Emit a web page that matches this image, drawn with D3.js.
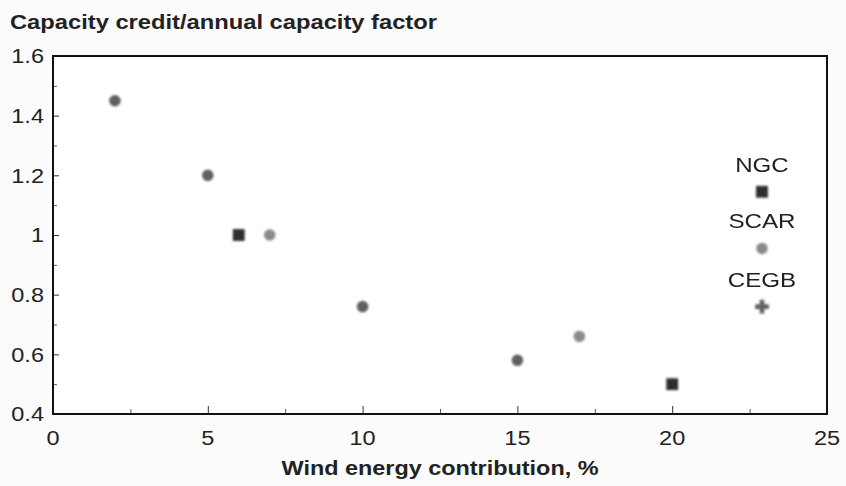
<!DOCTYPE html>
<html>
<head>
<meta charset="utf-8">
<script src="https://cdn.jsdelivr.net/npm/d3@7"></script>
<style>
  html, body { margin: 0; padding: 0; background: #fbfbfb; }
  svg { display: block; }
</style>
</head>
<body>
<svg id="chart" width="846" height="486"></svg>
<script>
// Wind energy contribution (%) vs capacity credit / annual capacity factor
const ngcX = [6, 20];
const ngcY = [1.0, 0.5];
const scarX = [7, 17];
const scarY = [1.0, 0.66];
const cegbX = [2, 5, 10, 15];
const cegbY = [1.45, 1.2, 0.76, 0.58];

// Key markers drawn beside the right edge, with their labels
const keyNames = ["NGC", "SCAR", "CEGB"];
const keyX = [22.9, 22.9, 22.9];
const keyY = [1.145, 0.955, 0.76];

const xMajorTicks = [0, 5, 10, 15, 20, 25];
const xMinorTicks = [2.5, 7.5, 12.5, 17.5, 22.5];
const yMajorTicks = [0.4, 0.6, 0.8, 1.0, 1.2, 1.4, 1.6];
const yMinorTicks = [0.5, 0.7, 0.9, 1.1, 1.3, 1.5];

const titleText = "Capacity credit/annual capacity factor";
const xLabelText = "Wind energy contribution, %";

const svg = d3.select("#chart");
const margin = { left: 53, right: 19, top: 56, bottom: 72 };
const W = 846, H = 486;
const plotW = W - margin.left - margin.right;
const plotH = H - margin.top - margin.bottom;

const x = d3.scaleLinear().domain([0, 25]).range([margin.left, margin.left + plotW]);
const y = d3.scaleLinear().domain([0.4, 1.6]).range([margin.top + plotH, margin.top]);

const defs = svg.append("defs");
defs.append("filter").attr("id", "soft")
  .attr("x", "-50%").attr("y", "-50%").attr("width", "200%").attr("height", "200%")
  .append("feGaussianBlur").attr("stdDeviation", 1.1);

const font = "'Liberation Sans', Arial, sans-serif";

// wide-set text: draws a string at a given size and stretches it horizontally
function wideText(g, sx) {
  return g.attr("transform", function () {
    const tx = +this.getAttribute("x"), ty = +this.getAttribute("y");
    return `translate(${tx},${ty}) scale(${sx},1) translate(${-tx},${-ty})`;
  });
}

// plot background
svg.append("rect")
  .attr("x", margin.left).attr("y", margin.top)
  .attr("width", plotW).attr("height", plotH)
  .attr("fill", "#ffffff");

// inward ticks on the left axis
svg.append("g").attr("transform", `translate(${margin.left},0)`)
  .call(d3.axisRight(y).tickValues(yMajorTicks).tickSize(6).tickFormat(""))
  .call(g => g.select(".domain").remove())
  .call(g => g.selectAll("line").attr("stroke", "#333").attr("stroke-width", 1));
svg.append("g").attr("transform", `translate(${margin.left},0)`)
  .call(d3.axisRight(y).tickValues(yMinorTicks).tickSize(4).tickFormat(""))
  .call(g => g.select(".domain").remove())
  .call(g => g.selectAll("line").attr("stroke", "#555").attr("stroke-width", 1));

// inward ticks on the bottom axis
svg.append("g").attr("transform", `translate(0,${margin.top + plotH})`)
  .call(d3.axisTop(x).tickValues(xMajorTicks).tickSize(8).tickFormat(""))
  .call(g => g.select(".domain").remove())
  .call(g => g.selectAll("line").attr("stroke", "#333").attr("stroke-width", 1));
svg.append("g").attr("transform", `translate(0,${margin.top + plotH})`)
  .call(d3.axisTop(x).tickValues(xMinorTicks).tickSize(5).tickFormat(""))
  .call(g => g.select(".domain").remove())
  .call(g => g.selectAll("line").attr("stroke", "#555").attr("stroke-width", 1));

// frame
svg.append("rect")
  .attr("x", margin.left).attr("y", margin.top)
  .attr("width", plotW).attr("height", plotH)
  .attr("fill", "none").attr("stroke", "#111").attr("stroke-width", 2);

// tick labels
const fmtY = d => (d === 1 ? "1" : d3.format(".1f")(d));
svg.append("g").selectAll("text").data(yMajorTicks).join("text")
  .attr("x", margin.left - 9).attr("y", d => y(d) + 7.5)
  .attr("text-anchor", "end")
  .attr("font-family", font).attr("font-size", 21).attr("fill", "#222")
  .text(fmtY)
  .call(wideText, 1.12);

svg.append("g").selectAll("text").data(xMajorTicks).join("text")
  .attr("x", d => x(d)).attr("y", margin.top + plotH + 31)
  .attr("text-anchor", "middle")
  .attr("font-family", font).attr("font-size", 21).attr("fill", "#222")
  .text(d => d)
  .call(wideText, 1.12);

// titles
svg.append("text")
  .attr("x", 10).attr("y", 29)
  .attr("font-family", font).attr("font-size", 20).attr("font-weight", "bold").attr("fill", "#222")
  .attr("textLength", 427).attr("lengthAdjust", "spacingAndGlyphs")
  .text(titleText);

svg.append("text")
  .attr("x", x(12.5)).attr("y", 475)
  .attr("text-anchor", "middle")
  .attr("font-family", font).attr("font-size", 21).attr("font-weight", "bold").attr("fill", "#222")
  .attr("textLength", 317).attr("lengthAdjust", "spacingAndGlyphs")
  .text(xLabelText);

// markers
const marks = svg.append("g").attr("filter", "url(#soft)");

const sq = d3.symbol().type(d3.symbolSquare).size(140);
const circ = d3.symbol().type(d3.symbolCircle).size(105);
const cross = d3.symbol().type(d3.symbolCross).size(105);

marks.selectAll(".ngc").data(d3.zip(ngcX, ngcY)).join("path")
  .attr("class", "ngc")
  .attr("transform", d => `translate(${x(d[0])},${y(d[1])})`)
  .attr("d", sq).attr("fill", "#2e2e2e");

marks.selectAll(".scar").data(d3.zip(scarX, scarY)).join("path")
  .attr("class", "scar")
  .attr("transform", d => `translate(${x(d[0])},${y(d[1])})`)
  .attr("d", circ).attr("fill", "#8a8a8a");

marks.selectAll(".cegb").data(d3.zip(cegbX, cegbY)).join("path")
  .attr("class", "cegb")
  .attr("transform", d => `translate(${x(d[0])},${y(d[1])})`)
  .attr("d", circ).attr("fill", "#606060");

// key markers
const keyShapes = [sq, circ, cross];
const keyFills = ["#2e2e2e", "#8a8a8a", "#606060"];
marks.selectAll(".key").data(keyNames).join("path")
  .attr("class", "key")
  .attr("transform", (d, i) => `translate(${x(keyX[i])},${y(keyY[i])})`)
  .attr("d", (d, i) => keyShapes[i]())
  .attr("fill", (d, i) => keyFills[i]);

svg.append("g").selectAll("text").data(keyNames).join("text")
  .attr("x", (d, i) => x(keyX[i]))
  .attr("y", (d, i) => y(keyY[i]) - 20)
  .attr("text-anchor", "middle")
  .attr("font-family", font).attr("font-size", 21).attr("fill", "#222")
  .text(d => d)
  .call(wideText, 1.15);
</script>
</body>
</html>
